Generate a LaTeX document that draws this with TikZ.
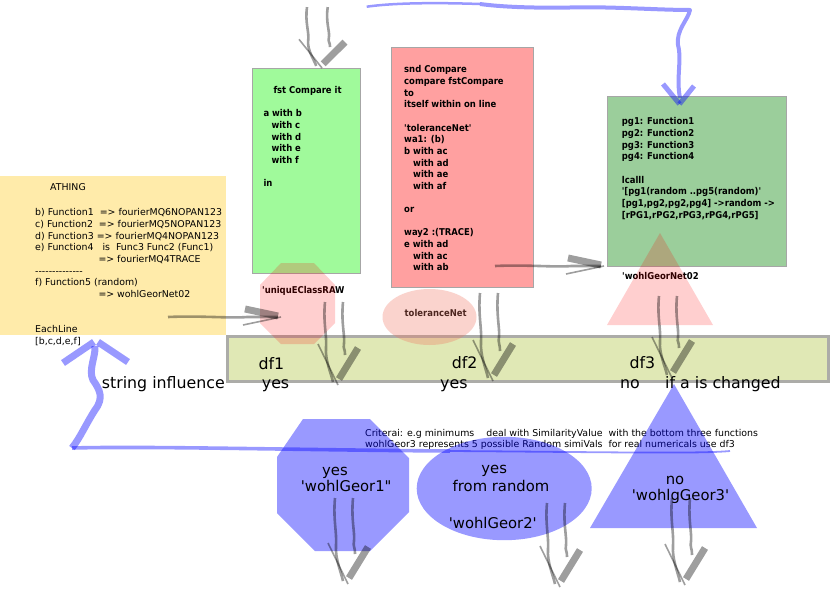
\documentclass[tikz,border=0pt]{standalone}
\usepackage{fontspec}
\newfontfamily\dv{DejaVu Sans}
\newfontfamily\dvb{DejaVu Sans}[FakeStretch=0.9]
\definecolor{ybox}{RGB}{255,235,170}
\definecolor{gbox}{RGB}{160,250,155}
\definecolor{rbox}{RGB}{255,160,160}
\definecolor{dgbox}{RGB}{155,206,155}
\definecolor{bandc}{RGB}{224,232,181}
\definecolor{bordc}{RGB}{172,172,168}
\definecolor{salm}{RGB}{240,120,100}
\tikzset{
  box/.style={rectangle, inner sep=0pt, outer sep=0pt, anchor=north west, draw=black!35, line width=0.8pt},
  txt/.style={font=\dv\fontsize{9.4}{11.65}\selectfont, inner sep=0pt, anchor=north west, align=left},
  btxt/.style={font=\dvb\bfseries\fontsize{9.4}{11.65}\selectfont, inner sep=0pt, anchor=north west, align=left},
  blab/.style={font=\dvb\bfseries\fontsize{9.4}{11.65}\selectfont, inner sep=0pt, anchor=base west},
  bigt/.style={font=\dv\fontsize{15.8}{18}\selectfont, inner sep=0pt, anchor=base west},
  shpt/.style={font=\dv\fontsize{14.8}{17}\selectfont, inner sep=0pt, anchor=base},
  pinkf/.style={fill=red, fill opacity=0.19},
  bluef/.style={fill=blue, fill opacity=0.4},
  bluepath/.style={draw=blue, draw opacity=0.4, line join=round},
  sqln/.style={draw=black, draw opacity=0.38, line width=2.6pt},
  sqthin/.style={draw=black, draw opacity=0.38, line width=1.6pt},
  sqthick/.style={draw=black, draw opacity=0.38, line width=7pt},
  pics/squig/.style={code={
    \draw[sqln] (-13,-#1) .. controls (-15,{-0.75*#1}) and (-11,{-0.6*#1}) .. (-12,{-0.45*#1}) .. controls (-13,{-0.3*#1}) and (-7,-12) .. (-5,-3);
    \draw[sqln] (5,-#1) .. controls (3,{-0.75*#1}) and (7,{-0.6*#1}) .. (6,{-0.5*#1}) .. controls (5,{-0.42*#1}) and (7,-38) .. (7,-30);
    \draw[sqthin] (-20,-41) -- (0,0);
    \draw[sqthick] (1,-6) -- (20,-37);
  }},
  pics/squigh/.style={code={
    \draw[sqln] (0,-#1) .. controls (1.5,{-0.7*#1}) and (-1.5,{-0.45*#1}) .. (0,{-0.3*#1}) -- (0,-3);
    \draw[sqthin] (-8,-38) -- (0,0);
    \draw[sqthick] (1,-3) -- (8,-36);
  }},
}
\begin{document}
\begin{tikzpicture}[x=1pt,y=-1pt]
\useasboundingbox (0,0) rectangle (831,592);
\fill[white] (0,0) rectangle (831,592);

% boxes
\node[box, fill=ybox, draw=none, minimum width=226pt, minimum height=159pt] (athing) at (0,176) {};
\node[box, fill=gbox, minimum width=107.7pt, minimum height=205pt] (fst) at (252.3,68.3) {};
\node[box, fill=rbox, minimum width=141.6pt, minimum height=240.4pt] (snd) at (391.7,47.3) {};
\node[box, fill=dgbox, minimum width=179.4pt, minimum height=170pt] (pg) at (607.3,96) {};
\node[box, fill=bandc, draw=bordc, line width=3pt, minimum width=601pt, minimum height=45pt] (band) at (227,336) {};

% yellow box text
\node[txt] (athingT) at (50,183.6) {ATHING};
\node[txt] (athingL) at (35,208.6) {b) Function1\ \ => fourierMQ6NOPAN123\\c) Function2\ \ => fourierMQ5NOPAN123\\d) Function3 => fourierMQ4NOPAN123\\e) Function4\ \ \ is\ \ Func3 Func2 (Func1)\\\hspace*{63.3pt}=> fourierMQ4TRACE\\--------------\\f) Function5 (random)\\\hspace*{63.3pt}=> wohlGeorNet02\\[23.3pt]EachLine\\{}[b,c,d,e,f]};

% green box text
\node[btxt] (fstT) at (273.3,86.2) {fst Compare it};
\node[btxt] (fstL) at (263.3,109.6) {a with b\\\hspace*{8pt}with c\\\hspace*{8pt}with d\\\hspace*{8pt}with e\\\hspace*{8pt}with f\\[11.65pt]in};

% red box text
\node[btxt] (sndL) at (404,65.5) {snd Compare\\compare fstCompare\\to\\itself within on line\\[11.65pt]'toleranceNet'\\wa1: (b)\\b with ac\\\hspace*{9pt}with ad\\\hspace*{9pt}with ae\\\hspace*{9pt}with af\\[11.65pt]or\\[11.65pt]way2 :(TRACE)\\e with ad\\\hspace*{9pt}with ac\\\hspace*{9pt}with ab};

% dark green box text
\node[btxt] (pgL) at (621.7,117.6) {pg1: Function1\\pg2: Function2\\pg3: Function3\\pg4: Function4\\[11.65pt]lcalll\\'[pg1(random ..pg5(random)'\\{}[pg1,pg2,pg2,pg4] ->random ->\\{}[rPG1,rPG2,rPG3,rPG4,rPG5]};

% labels under pink shapes
\node[blab] (uniqL) at (262,293.3) {'uniquEClassRAW};
\node[blab] (tolL) at (404.5,316.7) {toleranceNet};
\node[blab] (wgnL) at (622,279.3) {'wohlGeorNet02};

% pink shapes
\fill[pinkf] (281,263) -- (314,263) -- (335,285) -- (335,323) -- (314,344) -- (281,344) -- (260,323) -- (260,285) -- cycle;
\fill[fill=salm, fill opacity=0.32] (429.5,317) ellipse [x radius=47pt, y radius=28pt];
\fill[pinkf] (660,233) -- (713,325) -- (607,325) -- cycle;

% band texts
\node[bigt] (df1) at (258.3,369.5) {df1};
\node[bigt] (y1) at (261.7,388) {yes};
\node[bigt] (df2) at (451.7,368.5) {df2};
\node[bigt] (y2) at (440,388) {yes};
\node[bigt] (df3) at (629.3,368.5) {df3};
\node[bigt] (n3) at (620,388) {no};
\node[bigt] (chg) at (665,388) {if a is changed};
\node[bigt] (strinf) at (101.7,388.3) {string influence};

% criteria text
\node[txt, font=\dv\fontsize{9.4}{11.4}\selectfont] (crit) at (365,428.9) {Criterai: e.g minimums\ \ \ \ deal with SimilarityValue\ \ with the bottom three functions\\wohlGeor3 represents 5 possible Random simiVals\ \ for real numericals use df3};

% blue shapes
\fill[bluef] (303,419) -- (370,419) -- (409,458) -- (409,512) -- (370,551) -- (315,551) -- (277,513) -- (277,457) -- cycle;
\fill[bluef] (504.2,488.5) ellipse [x radius=87.5pt, y radius=51.7pt];
\fill[bluef] (674,384) -- (757,528) -- (590,528) -- cycle;

\node[shpt] (o1) at (335,475) {yes};
\node[shpt] (o2) at (346.2,491.7) {'wohlGeor1"};
\node[shpt] (e1) at (494.2,473) {yes};
\node[shpt] (e2) at (501,491.7) {from random};
\node[shpt] (e3) at (492.8,528.3) {'wohlGeor2'};
\node[shpt] (t1) at (675,484) {no};
\node[shpt] (t2) at (680.5,500) {'wohlgGeor3'};

% gray squiggle arrows
\coordinate (s1) at (322,68);
\coordinate (s2) at (338,385);
\coordinate (s3) at (493,381);
\coordinate (s4) at (672,378);
\coordinate (s5) at (348,584);
\coordinate (s6) at (560,587);
\coordinate (s7) at (685,585);
\coordinate (h1) at (281,317);
\coordinate (h2) at (604,266);
\pic[xscale=1.15,yscale=0.7] at (s1) {squig=87};
\pic at (s2) {squig=83};
\pic at (s3) {squig=88};
\pic at (s4) {squig=82};
\pic at (s5) {squig=86};
\pic at (s6) {squig=84};
\pic at (s7) {squig=87};
\pic[rotate=90] at (h1) {squigh=113};
\pic[rotate=90] at (h2) {squigh=109};

% blue top path into pg box
\coordinate (bt0) at (366.7,6.7);
\coordinate (bt1) at (690,10);
\coordinate (btA) at (679.5,104);
\draw[bluepath, line width=2.5pt] (bt0) .. controls (400,2) and (450,3) .. (480,4);
\draw[bluepath, line width=4pt] (480,4) .. controls (510,8) and (550,8) .. (580,7.3) .. controls (620,7) and (660,10) .. (bt1) .. controls (688,20) and (676,30) .. (678,45) .. controls (682,60) and (676,78) .. (680,98);
\draw[bluepath, line width=5pt] (663,84) -- (btA);
\draw[bluepath, line width=5pt] (694,86) -- (btA);

% blue string-influence path
\coordinate (bl0) at (730,451);
\coordinate (bl1) at (72,448);
\coordinate (blA) at (96,341);
\draw[bluepath, line width=1.8pt] (bl0) .. controls (700,454) and (600,452) .. (450,451);
\draw[bluepath, line width=3.6pt] (450,451) .. controls (300,450) and (150,446) .. (bl1);
\draw[bluepath, line width=7pt] (bl1) .. controls (80,438) and (86,424) .. (95,410) .. controls (104,398) and (100,390) .. (93,380) .. controls (88,370) and (96,356) .. (95,346);
\draw[bluepath, line width=7pt] (63,363) -- (94,342);
\draw[bluepath, line width=7pt] (128,362) -- (98,342);
\end{tikzpicture}
\end{document}
